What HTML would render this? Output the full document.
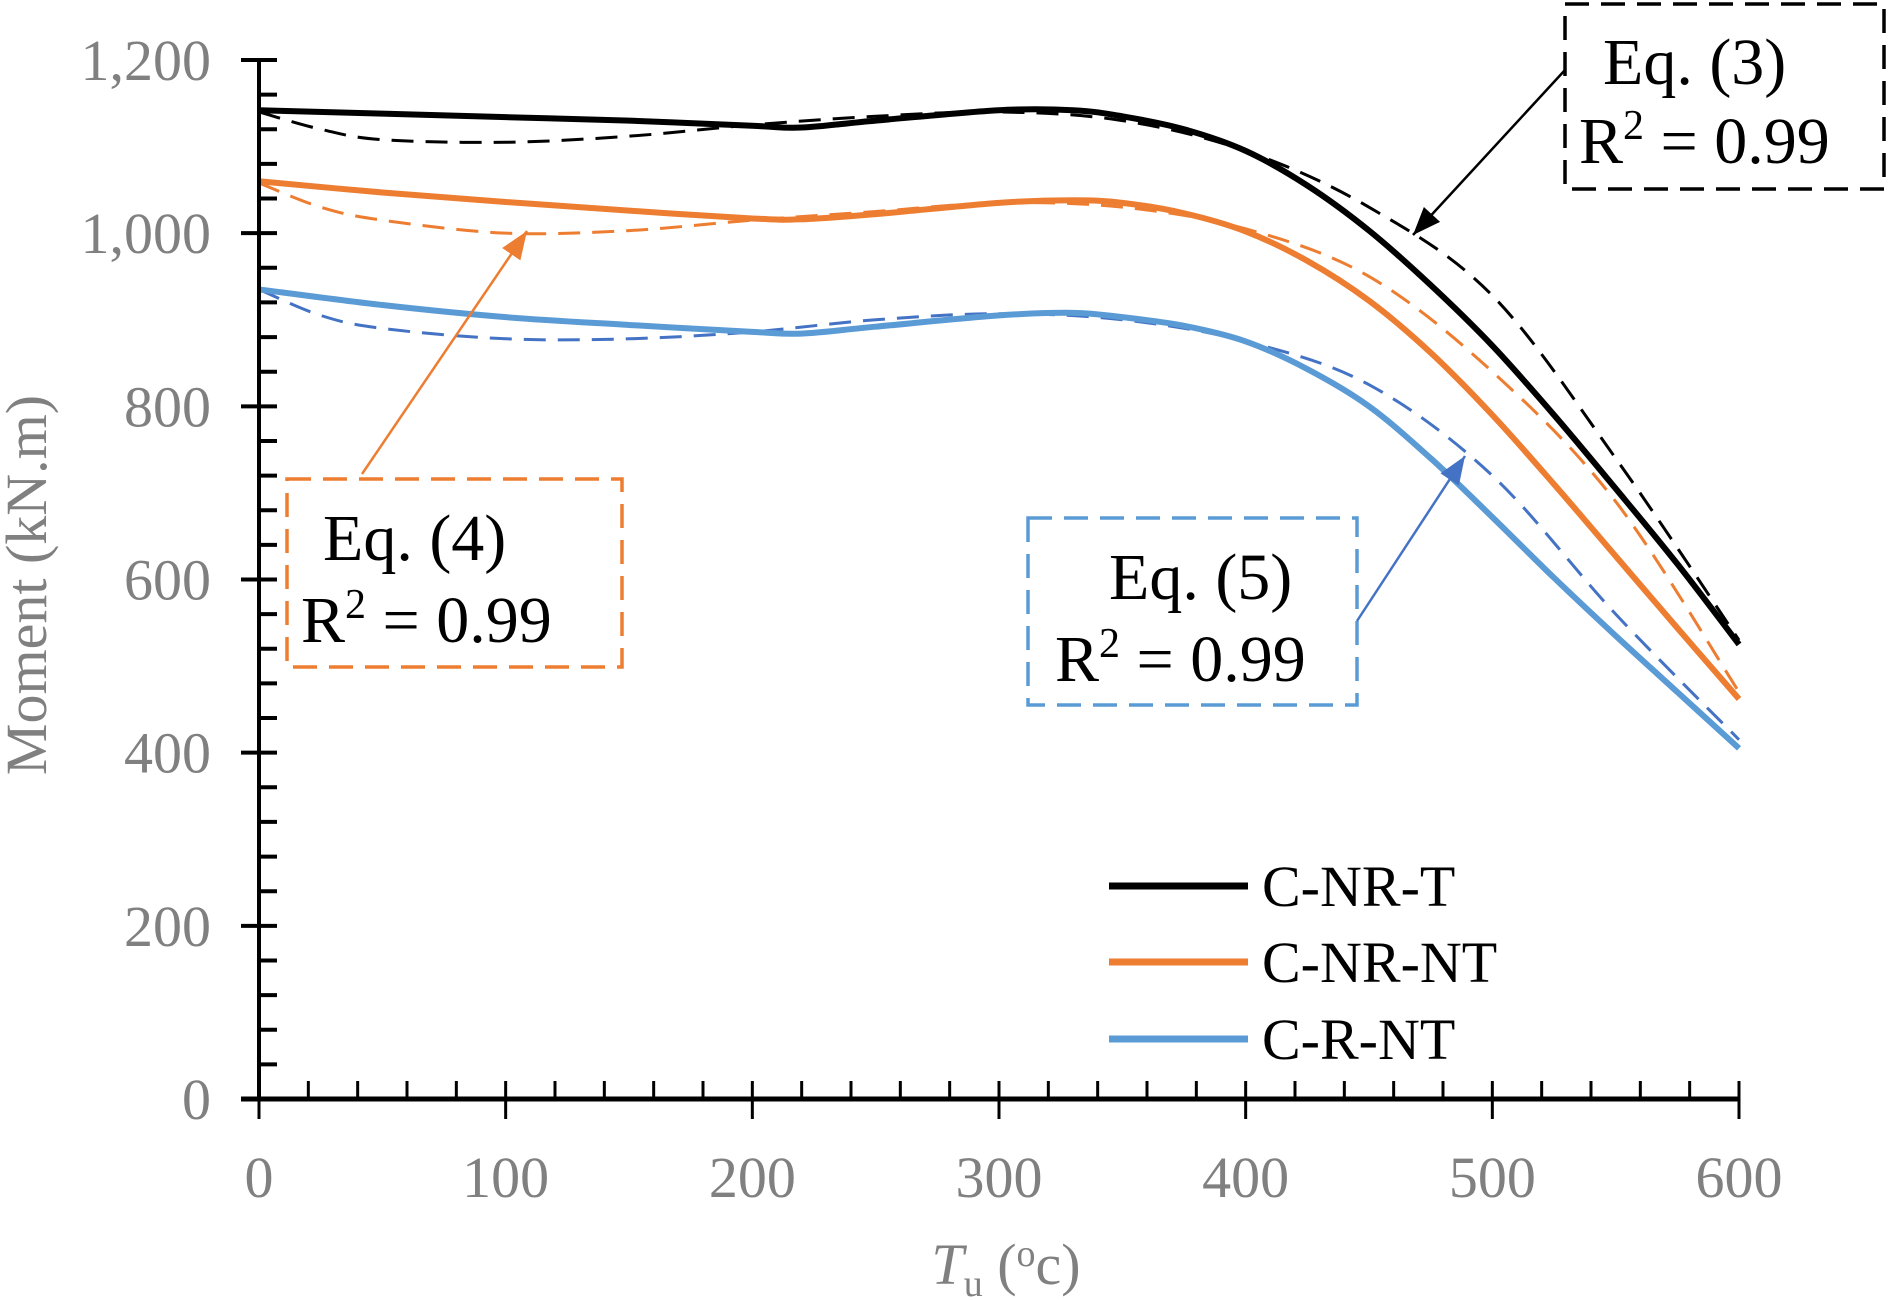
<!DOCTYPE html>
<html><head><meta charset="utf-8"><style>
html,body{margin:0;padding:0;background:#fff;}
svg{display:block;}
svg text{font-family:"Liberation Serif","Times New Roman",serif;}
</style></head><body>
<svg id="chart" width="1890" height="1300" viewBox="0 0 1890 1300">
<g id="grid"></g>
</svg>
<script>
const xTicks=[0,100,200,300,400,500,600];
const yTicks=[0,200,400,600,800,1000,1200];
const yTickLabels=["0","200","400","600","800","1,000","1,200"];
const temps=[0,50,100,150,200,220,250,300,330,350,375,400,425,450,475,500,525,550,575,600];
const cnrtSolid=[1142,1138,1134,1130,1124,1122,1130,1142,1142,1135,1120,1095,1055,1003,940,870,790,705,618,525];
const cnrntSolid=[1060,1047,1036,1026,1017,1016,1022,1035,1038,1035,1023,1002,968,922,862,790,710,627,544,462];
const crntSolid=[935,917,903,894,886,884,892,905,908,903,893,875,843,800,740,672,602,535,470,405];
const dTemps=[0,25,50,100,150,200,250,300,350,400,450,500,550,600];
const cnrtFit=[1140,1120,1108,1105,1112,1125,1135,1140,1130,1095,1030,928,740,530];
const cnrntFit=[1058,1030,1015,1000,1003,1015,1025,1035,1030,1005,950,840,690,470];
const crntFit=[935,905,890,878,878,886,900,907,900,875,825,720,560,415];

const svg=document.getElementById('chart');
const NS='http://www.w3.org/2000/svg';
const X0=259,X1=1739,Y0=1099,Y1=60;
const sx=v=>X0+(v/600)*(X1-X0);
const sy=v=>Y0-(v/1200)*(Y0-Y1);
function mk(tag,attrs,name,parent){const e=document.createElementNS(NS,tag);for(const k in attrs)e.setAttribute(k,attrs[k]);


(parent||svg).appendChild(e);return e;}
function smooth(xs,ys){const p=xs.map((x,i)=>[sx(x),sy(ys[i])]);let d='M'+p[0][0]+','+p[0][1];
for(let i=0;i<p.length-1;i++){const a=p[Math.max(i-1,0)],b=p[i],c=p[i+1],e=p[Math.min(i+2,p.length-1)];
const c1=[b[0]+(c[0]-a[0])/6,b[1]+(c[1]-a[1])/6],c2=[c[0]-(e[0]-b[0])/6,c[1]-(e[1]-b[1])/6];
d+=' C'+c1+' '+c2+' '+c;}return d;}
mk('path',{d:smooth(dTemps,cnrtFit),fill:'none',stroke:'#000','stroke-width':3,'stroke-dasharray':'22,12'},'c-nr-t-fit-line');
mk('path',{d:smooth(dTemps,cnrntFit),fill:'none',stroke:'#ED7D31','stroke-width':3,'stroke-dasharray':'22,12'},'c-nr-nt-fit-line');
mk('path',{d:smooth(dTemps,crntFit),fill:'none',stroke:'#4472C4','stroke-width':3,'stroke-dasharray':'22,12'},'c-r-nt-fit-line');
mk('path',{d:smooth(temps,cnrtSolid),fill:'none',stroke:'#000','stroke-width':6},'c-nr-t-line');
mk('path',{d:smooth(temps,cnrntSolid),fill:'none',stroke:'#ED7D31','stroke-width':6},'c-nr-nt-line');
mk('path',{d:smooth(temps,crntSolid),fill:'none',stroke:'#5B9BD5','stroke-width':6},'c-r-nt-line');
mk('line',{x1:X0,y1:Y1,x2:X0,y2:Y0,stroke:'#000','stroke-width':4},'y-axis');
mk('line',{x1:X0-18,y1:Y0,x2:X1,y2:Y0,stroke:'#000','stroke-width':5},'x-axis');
for(let v=0;v<=1200;v+=40){const maj=v%200===0;mk('line',{x1:maj?X0-18:X0,y1:sy(v),x2:X0+18,y2:sy(v),stroke:'#000','stroke-width':4},'y-tick');}
for(let v=20;v<=600;v+=20){const maj=v%100===0;mk('line',{x1:sx(v),y1:Y0-18,x2:sx(v),y2:maj?Y0+20:Y0,stroke:'#000','stroke-width':3},'x-tick');}
mk('line',{x1:X0,y1:Y0,x2:X0,y2:Y0+20,stroke:'#000','stroke-width':3},'x-tick');
yTicks.forEach((v,i)=>{const t=mk('text',{x:211,y:sy(v)+20,'text-anchor':'end','font-size':58,fill:'#808080'},'y-tick-label');t.textContent=yTickLabels[i];});
xTicks.forEach(v=>{const t=mk('text',{x:sx(v),y:1197,'text-anchor':'middle','font-size':58,fill:'#808080'},'x-tick-label');t.textContent=String(v);});
const xt=mk('text',{x:1006,y:1284,'text-anchor':'middle','font-size':58,fill:'#808080'},'x-axis-title');
xt.innerHTML='<tspan font-style="italic">T</tspan><tspan font-size="38" dy="12">u</tspan><tspan dy="-12"> (</tspan><tspan font-size="38" dy="-18">o</tspan><tspan dy="18">c)</tspan>';
const yt=mk('text',{x:0,y:0,'text-anchor':'middle','font-size':58,fill:'#808080',transform:'translate(46,585) rotate(-90)'},'y-axis-title');yt.textContent='Moment (kN.m)';
function box(x,y,w,h,col,name){mk('rect',{x:x,y:y,width:w,height:h,fill:'#fff',stroke:col,'stroke-width':3.5,'stroke-dasharray':'24,12'},name);}
function arrow(x1,y1,x2,y2,col,name){mk('line',{x1:x1,y1:y1,x2:x2,y2:y2,stroke:col,'stroke-width':2.5},name);
const a=Math.atan2(y2-y1,x2-x1),L=28,W=11;const p=[[x2,y2],[x2-L*Math.cos(a)+W*Math.sin(a),y2-L*Math.sin(a)-W*Math.cos(a)],[x2-L*Math.cos(a)-W*Math.sin(a),y2-L*Math.sin(a)+W*Math.cos(a)]];
mk('polygon',{points:p.map(q=>q.join(',')).join(' '),fill:col},name+'-head');}
function label(x,y,txt,name){const t=mk('text',{x:x,y:y,'font-size':66,fill:'#000'},name);t.innerHTML=txt;}
box(1565,4,319,185,'#000','eq3-box');
label(1603,84,'Eq. (3)','eq3-label');label(1579,163,'R<tspan font-size="42" dy="-24">2</tspan><tspan dy="24"> = 0.99</tspan>','eq3-r2');
arrow(1565,70,1413,235,'#000','eq3-arrow');
box(287,479,335,188,'#ED7D31','eq4-box');
label(323,560,'Eq. (4)','eq4-label');label(301,642,'R<tspan font-size="42" dy="-24">2</tspan><tspan dy="24"> = 0.99</tspan>','eq4-r2');
arrow(362,474,527,231,'#ED7D31','eq4-arrow');
box(1028,518,329,187,'#5B9BD5','eq5-box');
label(1109,599,'Eq. (5)','eq5-label');label(1055,681,'R<tspan font-size="42" dy="-24">2</tspan><tspan dy="24"> = 0.99</tspan>','eq5-r2');
arrow(1357,621,1465,456,'#4472C4','eq5-arrow');
const legNames=['C-NR-T','C-NR-NT','C-R-NT'],legCols=['#000','#ED7D31','#5B9BD5'],legY=[886,962,1039];
legNames.forEach((n,i)=>{mk('line',{x1:1109,y1:legY[i],x2:1248,y2:legY[i],stroke:legCols[i],'stroke-width':7},'legend-swatch');
const t=mk('text',{x:1262,y:legY[i]+20,'font-size':58,fill:'#000'},'legend-label');t.textContent=n;});
</script>
</body></html>
